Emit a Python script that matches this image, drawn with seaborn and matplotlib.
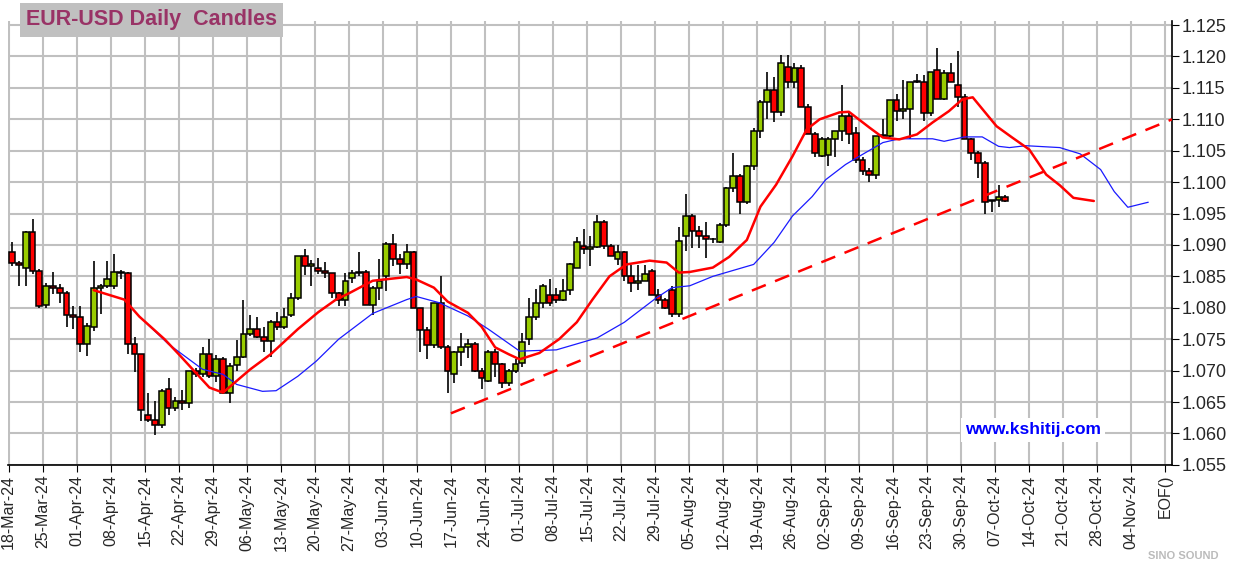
import numpy as np
import pandas as pd
import matplotlib
matplotlib.use("Agg")
from matplotlib import pyplot as plt
import seaborn as sns

# daily candles, 18-Mar-24 onwards (trading days)
opens = [1.0888, 1.0871, 1.0864, 1.0920, 1.0859, 1.0805, 1.0834, 1.0831, 1.0824, 1.0788,
         1.0786, 1.0742, 1.0770, 1.0832, 1.0835, 1.0834, 1.0857, 1.0856, 1.0742, 1.0726,
         1.0630, 1.0622, 1.0613, 1.0670, 1.0641, 1.0652, 1.0649, 1.0699, 1.0695, 1.0727,
         1.0691, 1.0719, 1.0665, 1.0709, 1.0722, 1.0759, 1.0767, 1.0754, 1.0747, 1.0778,
         1.0770, 1.0788, 1.0815, 1.0882, 1.0866, 1.0864, 1.0858, 1.0855, 1.0823, 1.0813,
         1.0847, 1.0857, 1.0857, 1.0804, 1.0832, 1.0851, 1.0901, 1.0877, 1.0869, 1.0888,
         1.0799, 1.0764, 1.0740, 1.0808, 1.0737, 1.0695, 1.0729, 1.0737, 1.0743, 1.0700,
         1.0683, 1.0729, 1.0711, 1.0680, 1.0700, 1.0712, 1.0751, 1.0785, 1.0808, 1.0821,
         1.0821, 1.0813, 1.0828, 1.0864, 1.0898, 1.0894, 1.0897, 1.0936, 1.0898, 1.0877,
         1.0888, 1.0851, 1.0839, 1.0843, 1.0858, 1.0821, 1.0812, 1.0828, 1.0790, 1.0914,
         1.0946, 1.0922, 1.0914, 1.0909, 1.0905, 1.0931, 1.0991, 1.1010, 1.0969, 1.1025,
         1.1082, 1.1128, 1.1147, 1.1111, 1.1184, 1.1160, 1.1182, 1.1119, 1.1077, 1.1042,
         1.1043, 1.1069, 1.1081, 1.1106, 1.1079, 1.1036, 1.1017, 1.1012, 1.1075, 1.1074,
         1.1130, 1.1113, 1.1117, 1.1160, 1.1160, 1.1110, 1.1178, 1.1133, 1.1174, 1.1155,
         1.1136, 1.1068, 1.1047, 1.1031, 1.0970, 1.0971, 1.0977]
highs = [1.0904, 1.0875, 1.0922, 1.0942, 1.0862, 1.0840, 1.0857, 1.0838, 1.0826, 1.0803,
         1.0803, 1.0775, 1.0874, 1.0838, 1.0874, 1.0885, 1.0860, 1.0857, 1.0754, 1.0727,
         1.0665, 1.0651, 1.0670, 1.0689, 1.0658, 1.0669, 1.0700, 1.0704, 1.0738, 1.0751,
         1.0725, 1.0722, 1.0712, 1.0749, 1.0812, 1.0789, 1.0785, 1.0770, 1.0780, 1.0793,
         1.0800, 1.0824, 1.0882, 1.0894, 1.0876, 1.0880, 1.0873, 1.0856, 1.0825, 1.0856,
         1.0860, 1.0888, 1.0860, 1.0834, 1.0877, 1.0904, 1.0917, 1.0886, 1.0902, 1.0890,
         1.0800, 1.0770, 1.0808, 1.0850, 1.0740, 1.0731, 1.0760, 1.0750, 1.0745, 1.0704,
         1.0733, 1.0735, 1.0712, 1.0702, 1.0719, 1.0760, 1.0816, 1.0830, 1.0838, 1.0846,
         1.0831, 1.0846, 1.0872, 1.0912, 1.0925, 1.0915, 1.0947, 1.0940, 1.0902, 1.0900,
         1.0890, 1.0868, 1.0868, 1.0868, 1.0861, 1.0830, 1.0816, 1.0835, 1.0928, 1.0981,
         1.0950, 1.0930, 1.0936, 1.0911, 1.0935, 1.0993, 1.1047, 1.1013, 1.1028, 1.1086,
         1.1130, 1.1175, 1.1167, 1.1202, 1.1202, 1.1190, 1.1187, 1.1125, 1.1080, 1.1072,
         1.1072, 1.1081, 1.1155, 1.1110, 1.1088, 1.1040, 1.1022, 1.1073, 1.1101, 1.1130,
         1.1140, 1.1163, 1.1160, 1.1172, 1.1170, 1.1176, 1.1214, 1.1178, 1.1190, 1.1208,
         1.1140, 1.1070, 1.1050, 1.1033, 1.0971, 1.0996, 1.0980]
lows = [1.0866, 1.0834, 1.0834, 1.0854, 1.0800, 1.0800, 1.0822, 1.0808, 1.0770, 1.0766,
        1.0729, 1.0723, 1.0763, 1.0790, 1.0832, 1.0830, 1.0846, 1.0726, 1.0697, 1.0619,
        1.0618, 1.0598, 1.0608, 1.0630, 1.0635, 1.0638, 1.0641, 1.0690, 1.0690, 1.0688,
        1.0682, 1.0662, 1.0649, 1.0700, 1.0720, 1.0755, 1.0752, 1.0730, 1.0722, 1.0765,
        1.0766, 1.0785, 1.0813, 1.0852, 1.0834, 1.0854, 1.0847, 1.0815, 1.0803, 1.0803,
        1.0840, 1.0850, 1.0804, 1.0789, 1.0813, 1.0827, 1.0866, 1.0853, 1.0861, 1.0799,
        1.0730, 1.0718, 1.0736, 1.0735, 1.0665, 1.0680, 1.0708, 1.0720, 1.0698, 1.0670,
        1.0682, 1.0690, 1.0672, 1.0676, 1.0696, 1.0705, 1.0740, 1.0780, 1.0800, 1.0803,
        1.0808, 1.0811, 1.0820, 1.0864, 1.0885, 1.0866, 1.0895, 1.0893, 1.0882, 1.0868,
        1.0843, 1.0825, 1.0828, 1.0843, 1.0821, 1.0806, 1.0798, 1.0786, 1.0785, 1.0890,
        1.0895, 1.0895, 1.0880, 1.0903, 1.0903, 1.0928, 1.0985, 1.0949, 1.0965, 1.1020,
        1.1071, 1.1100, 1.1096, 1.1105, 1.1150, 1.1150, 1.1119, 1.1077, 1.1040, 1.1040,
        1.1025, 1.1040, 1.1065, 1.1060, 1.1030, 1.1012, 1.1001, 1.1005, 1.1072, 1.1072,
        1.1098, 1.1100, 1.1068, 1.1158, 1.1098, 1.1105, 1.1132, 1.1131, 1.1160, 1.1120,
        1.1068, 1.1035, 1.1007, 1.0950, 1.0953, 1.0960, 1.0968]
closes = [1.0871, 1.0868, 1.0920, 1.0859, 1.0803, 1.0834, 1.0831, 1.0824, 1.0788, 1.0786,
          1.0742, 1.0771, 1.0832, 1.0835, 1.0846, 1.0857, 1.0856, 1.0742, 1.0726, 1.0637,
          1.0622, 1.0614, 1.0667, 1.0641, 1.0652, 1.0649, 1.0699, 1.0695, 1.0727, 1.0691,
          1.0719, 1.0665, 1.0708, 1.0722, 1.0759, 1.0767, 1.0754, 1.0747, 1.0778, 1.0769,
          1.0786, 1.0815, 1.0882, 1.0866, 1.0869, 1.0858, 1.0855, 1.0823, 1.0813, 1.0843,
          1.0855, 1.0856, 1.0804, 1.0832, 1.0843, 1.0902, 1.0877, 1.0869, 1.0888, 1.0799,
          1.0764, 1.0740, 1.0808, 1.0737, 1.0700, 1.0729, 1.0737, 1.0743, 1.0700, 1.0689,
          1.0729, 1.0711, 1.0680, 1.0700, 1.0710, 1.0745, 1.0785, 1.0808, 1.0835, 1.0807,
          1.0813, 1.0826, 1.0869, 1.0904, 1.0894, 1.0897, 1.0936, 1.0898, 1.0882, 1.0888,
          1.0851, 1.0839, 1.0843, 1.0853, 1.0821, 1.0812, 1.0800, 1.0790, 1.0907, 1.0946,
          1.0922, 1.0914, 1.0909, 1.0910, 1.0931, 1.0991, 1.1010, 1.0969, 1.1025, 1.1082,
          1.1128, 1.1147, 1.1111, 1.1190, 1.1160, 1.1182, 1.1119, 1.1077, 1.1047, 1.1069,
          1.1069, 1.1081, 1.1106, 1.1076, 1.1036, 1.1017, 1.1012, 1.1073, 1.1074, 1.1130,
          1.1113, 1.1116, 1.1160, 1.1159, 1.1110, 1.1176, 1.1133, 1.1174, 1.1160, 1.1136,
          1.1068, 1.1047, 1.1031, 1.0969, 1.0971, 1.0977, 1.0970]

# displaced moving averages (day index, value)
red_ma_x = [12, 16.5, 18.7, 22.4, 24.5, 29, 31, 35, 38, 42, 45, 47.6, 49.5, 53, 58, 59.4, 62,
            64, 67, 69, 71, 73, 74.6, 77.5, 80.4, 83, 85.3, 87.8, 90.3, 93.7, 96.2, 98, 99.6, 103,
            105.4, 108, 110, 112.3, 114.7, 116.8, 118.7, 121.6, 123, 126, 128, 130.4, 133,
            135.3, 137.7, 139.7, 141.2, 144.7, 147, 149.5, 152, 154, 156, 159]
red_ma_y = [1.0828, 1.0813, 1.0786, 1.0750, 1.0726, 1.0673, 1.0665, 1.0702, 1.0726, 1.0766,
            1.0793, 1.0813, 1.0823, 1.0843, 1.0849, 1.0845, 1.0832, 1.0810, 1.0792, 1.0770,
            1.0737, 1.0726, 1.0718, 1.0728, 1.0750, 1.0777, 1.0813, 1.0850, 1.0869, 1.0875, 1.0872,
            1.0856, 1.0857, 1.0864, 1.0881, 1.0908, 1.0961, 1.0996, 1.1041, 1.1084, 1.1100,
            1.1111, 1.1112, 1.1087, 1.1071, 1.1068, 1.1076, 1.1095, 1.1113, 1.1132, 1.1135,
            1.1089, 1.1071, 1.1052, 1.1012, 1.0995, 1.0975, 1.0970]
blue_ma_x = [19.7, 23, 28, 31, 33, 36.8, 38.8, 42, 44.7, 48, 53, 58, 59.4, 62.8, 67, 70, 74.6,
             80, 86, 90, 94.6, 97, 99.6, 103, 109, 112, 114.7, 117.6, 119.6, 122.5, 124.5,
             128, 130.4, 135.3, 137, 140, 142.6, 145, 146.6, 149, 154, 157, 160, 162, 164, 167]
blue_ma_y = [1.0776, 1.0742, 1.0702, 1.0694, 1.0678, 1.0667, 1.0668, 1.0691, 1.0715, 1.0750,
             1.0791, 1.0813, 1.0818, 1.0808, 1.0787, 1.0766, 1.0731, 1.0733, 1.0752, 1.0777,
             1.0815, 1.0832, 1.0835, 1.0850, 1.0869, 1.0904, 1.0946, 1.0977, 1.1004, 1.1028,
             1.1041, 1.1063, 1.1069, 1.1069, 1.1065, 1.1072, 1.1072, 1.1057, 1.1055, 1.1058,
             1.1055, 1.1045, 1.1020, 1.0985, 1.0960, 1.0968]

trend_x = [64.5, 170.5]
trend_y = [1.0632, 1.1100]

week_labels = [d.strftime("%d-%b-%y") for d in pd.date_range("2024-03-18", periods=34, freq="7D")] + ["EOF()"]
y_ticks = [1.055, 1.060, 1.065, 1.070, 1.075, 1.080, 1.085, 1.090, 1.095, 1.100,
           1.105, 1.110, 1.115, 1.120, 1.125]

sns.set_style("white")
plt.rcParams["font.family"] = "Liberation Sans"

fig = plt.figure(figsize=(12.37, 5.76), dpi=100)
ax = fig.add_axes([0.0065, 0.193, 0.941, 0.770])

o = np.array(opens); h = np.array(highs); l = np.array(lows); c = np.array(closes)
idx = np.arange(len(o))
up = c >= o
colors = np.where(up, "#99cc00", "#ff0000")
ax.vlines(idx, l, h, color="black", lw=1.2, zorder=3)
bottoms = np.minimum(o, c)
heights = np.maximum(np.abs(c - o), 0.00012)
ax.bar(idx, heights, bottom=bottoms, width=0.85, color=colors, edgecolor="black",
       linewidth=1.1, zorder=4)

sns.lineplot(x=blue_ma_x, y=blue_ma_y, ax=ax, color="#1a1aff", lw=0.9, zorder=5)
sns.lineplot(x=red_ma_x, y=red_ma_y, ax=ax, color="#ff0000", lw=1.8, zorder=6)
ax.plot(trend_x, trend_y, color="#ff0000", lw=1.8, ls=(0, (6, 4)), zorder=6)

ax.set_xlim(-0.6, 170.5)
ax.set_ylim(1.055, 1.1256)
ax.set_xticks([5 * k - 0.5 for k in range(35)])
ax.set_xticklabels(week_labels, rotation=90, fontsize=11.5)
ax.yaxis.tick_right()
ax.set_yticks(y_ticks)
ax.set_yticklabels([f"{v:.3f}" for v in y_ticks], fontsize=13)
ax.tick_params(axis="both", direction="out", length=5, color="black", pad=2)
ax.tick_params(axis="x", bottom=True)
ax.tick_params(axis="y", right=True)
ax.grid(True, color="#c0c0c0", lw=1.5)
ax.set_axisbelow(True)
for s in ["top", "left"]:
    ax.spines[s].set_visible(False)
for s in ["bottom", "right"]:
    ax.spines[s].set_color("black")
    ax.spines[s].set_linewidth(1.2)

fig.text(0.021, 0.966, "EUR-USD Daily  Candles", fontsize=15.5, fontweight="bold",
         color="#993366", va="center",
         bbox=dict(boxstyle="square,pad=0.3", fc="#c0c0c0", ec="none"))
ax.text(0.822, 0.079, "www.kshitij.com", transform=ax.transAxes, fontsize=12.5,
        fontweight="bold", color="#0000ff", ha="left", va="center",
        bbox=dict(boxstyle="square,pad=0.25", fc="white", ec="none"), zorder=7)
fig.text(0.985, 0.03, "SINO SOUND", fontsize=8, fontweight="bold", color="#bbbbbb", ha="right")

fig.savefig("out.png", dpi=100)
